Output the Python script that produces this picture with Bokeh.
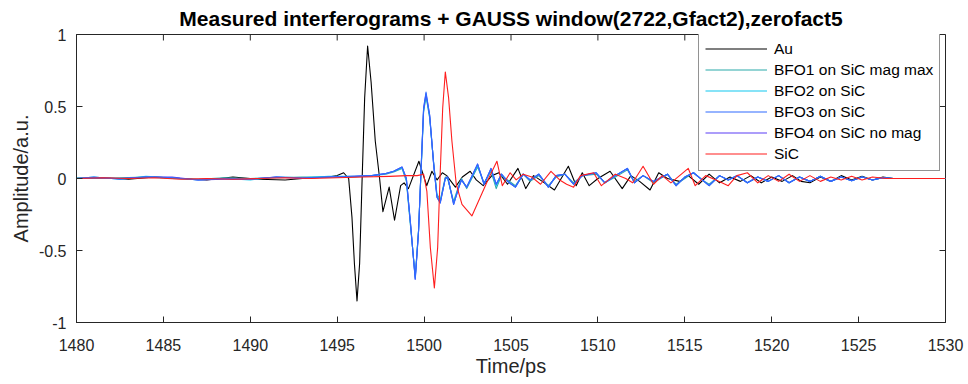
import math
from bokeh.plotting import figure
from bokeh.models import Range1d, FixedTicker, Legend, LegendItem
from bokeh.embed import file_html
from bokeh.resources import INLINE

# ---------------- data ----------------
title_text = "Measured interferograms + GAUSS window(2722,Gfact2),zerofact5"
x_label = "Time/ps"
y_label = "Amplitude/a.u."

x_ticks = [1480, 1485, 1490, 1495, 1500, 1505, 1510, 1515, 1520, 1525, 1530]
x_tick_labels = ["1480", "1485", "1490", "1495", "1500", "1505", "1510", "1515", "1520", "1525", "1530"]
y_ticks = [-1, -0.5, 0, 0.5, 1]
y_tick_labels = ["-1", "-0.5", "0", "0.5", "1"]

series_names = ["Au", "BFO1 on SiC mag max", "BFO2 on SiC", "BFO3 on SiC", "BFO4 on SiC no mag", "SiC"]

t_au = [1480.0, 1481.5, 1483.0, 1484.5, 1486.0, 1487.5, 1489.0, 1490.5, 1492.0, 1493.5,
        1494.5, 1495.0, 1495.37, 1495.66, 1495.85, 1495.99, 1496.14, 1496.29, 1496.43, 1496.58,
        1496.75, 1496.95, 1497.19, 1497.44, 1497.63, 1497.99, 1498.3, 1498.65, 1498.85, 1499.1,
        1499.7, 1500.15,
        1500.45, 1500.75, 1501.05, 1501.3, 1501.8, 1502.2, 1502.65, 1503.0, 1503.4, 1503.9,
        1504.3, 1504.8, 1505.4, 1505.85, 1506.3, 1506.8, 1507.5, 1508.3, 1508.75, 1509.1,
        1509.5, 1510.0, 1510.7, 1511.4, 1511.9, 1512.4, 1513.0, 1513.5, 1514.0, 1514.7,
        1515.2, 1515.8, 1516.4, 1517.0, 1517.6, 1518.2, 1518.8, 1519.4, 1520.0, 1520.6,
        1521.2, 1521.7, 1522.2, 1522.8, 1523.4, 1524.0, 1524.6, 1525.2, 1525.8, 1526.4,
        1527.0, 1530.0]
a_au = [0.0, 0.005, -0.005, 0.01, 0.0, -0.01, 0.01, -0.005, -0.01, 0.005,
        0.01, 0.02, 0.04, 0.0, -0.27, -0.59, -0.85, -0.59, -0.02, 0.56,
        0.92, 0.67, 0.26, 0.0, -0.23, -0.06, -0.29, -0.05, -0.03, -0.07,
        0.12, -0.05,
        0.05, -0.01, 0.04, 0.02, -0.06, 0.01, 0.05, -0.01, -0.05, 0.02,
        0.04, -0.04, 0.07, -0.07, 0.02, -0.02, -0.08, 0.085, -0.05, 0.04,
        -0.05, 0.0, 0.05, -0.07, 0.02, -0.02, -0.08, 0.04, 0.0, -0.02,
        0.02, -0.04, 0.03, -0.03, 0.01, -0.02, 0.02, -0.03, 0.01, -0.02,
        0.02, -0.02, -0.03, 0.01, -0.02, 0.02, -0.01, 0.015, -0.01, 0.01,
        0.0, 0.0]

t_bfo = [1480.0, 1481.0, 1482.5, 1484.0, 1485.5, 1487.0, 1488.5, 1490.0, 1491.5, 1493.0,
         1494.5, 1496.0, 1497.0, 1497.8, 1498.25, 1498.73, 1498.98, 1499.21, 1499.49, 1499.68,
         1499.82, 1499.97, 1500.11, 1500.32, 1500.55, 1500.74, 1500.93, 1501.22, 1501.36, 1501.70,
         1501.99, 1502.15, 1502.45,
         1503.08, 1503.45, 1503.85, 1504.15, 1504.45, 1504.8, 1505.25, 1505.7, 1506.1, 1506.6,
         1507.15, 1507.6, 1508.1, 1508.6, 1509.1, 1509.9, 1510.4, 1511.0, 1511.7, 1512.1,
         1512.6, 1513.2, 1514.0, 1514.5, 1515.0, 1515.5, 1516.0, 1516.4, 1517.0, 1517.5,
         1518.0, 1518.6, 1519.2, 1519.8, 1520.4, 1521.0, 1521.6, 1522.2, 1522.8, 1523.4,
         1524.0, 1524.6, 1525.2, 1525.8, 1526.4, 1527.0, 1528.5, 1530.0]
a_bfo1 = [0.005, 0.0, 0.005, 0.01, 0.0, -0.005, 0.005, 0.0, 0.005, 0.01,
          0.01, 0.01, 0.02, 0.03, 0.045, 0.07, -0.02, -0.32, -0.68, -0.36,
          0.03, 0.46, 0.57, 0.42, 0.11, -0.11, -0.15, 0.01, 0.0, -0.16,
          -0.05, 0.0, -0.07,
          0.08, -0.03, 0.05, -0.07, 0.02, -0.01, -0.05, 0.03, -0.02, 0.02,
          -0.05, 0.01, 0.03, -0.03, 0.02, 0.03, -0.03, 0.01, 0.06, -0.02,
          0.02, -0.03, 0.03, -0.04, 0.0, 0.04, -0.01, -0.04, 0.02, -0.01,
          0.02, -0.03, 0.01, -0.02, 0.02, -0.03, 0.01, -0.02, 0.015, -0.02,
          0.01, -0.015, 0.01, -0.01, 0.005, 0.0, 0.0, 0.0]
a_bfo2 = [0.0, 0.01, -0.005, 0.015, 0.005, -0.01, 0.0, -0.01, 0.01, 0.005,
          0.015, 0.015, 0.02, 0.035, 0.05, 0.075, -0.01, -0.31, -0.69, -0.36,
          0.04, 0.47, 0.58, 0.43, 0.10, -0.12, -0.16, 0.0, 0.0, -0.17,
          -0.06, -0.01, -0.06,
          0.09, -0.04, 0.06, -0.05, 0.03, -0.02, -0.06, 0.03, -0.01, 0.03,
          -0.06, 0.02, 0.03, -0.04, 0.02, 0.04, -0.03, 0.02, 0.07, -0.03,
          0.02, -0.02, 0.03, -0.05, 0.01, 0.04, -0.01, -0.05, 0.02, -0.01,
          0.02, -0.03, 0.01, -0.02, 0.02, -0.03, 0.01, -0.02, 0.015, -0.02,
          0.01, -0.015, 0.01, -0.01, 0.005, 0.0, 0.0, 0.0]
a_bfo3 = [0.0, 0.01, -0.005, 0.01, 0.005, -0.01, 0.0, -0.005, 0.01, 0.005,
          0.01, 0.015, 0.02, 0.035, 0.05, 0.08, 0.0, -0.30, -0.70, -0.37,
          0.05, 0.49, 0.60, 0.44, 0.10, -0.13, -0.17, 0.0, 0.01, -0.18,
          -0.065, -0.01, -0.06,
          0.10, -0.04, 0.07, -0.04, 0.03, -0.02, -0.06, 0.03, -0.01, 0.03,
          -0.06, 0.02, 0.03, -0.04, 0.02, 0.04, -0.03, 0.02, 0.07, -0.03,
          0.02, -0.02, 0.03, -0.05, 0.01, 0.04, -0.01, -0.05, 0.02, -0.01,
          0.02, -0.03, 0.01, -0.02, 0.02, -0.03, 0.01, -0.02, 0.015, -0.02,
          0.01, -0.015, 0.01, -0.01, 0.005, 0.0, 0.0, 0.0]
a_bfo4 = [0.0, 0.005, 0.0, 0.01, 0.01, -0.01, -0.005, -0.005, 0.01, 0.0,
          0.01, 0.015, 0.02, 0.035, 0.05, 0.08, 0.0, -0.30, -0.70, -0.37,
          0.05, 0.48, 0.59, 0.44, 0.10, -0.13, -0.17, 0.0, 0.01, -0.18,
          -0.065, -0.01, -0.06,
          0.10, -0.04, 0.07, -0.04, 0.03, -0.02, -0.06, 0.03, -0.01, 0.03,
          -0.06, 0.02, 0.03, -0.04, 0.02, 0.04, -0.03, 0.02, 0.07, -0.03,
          0.02, -0.02, 0.03, -0.05, 0.01, 0.04, -0.01, -0.05, 0.02, -0.01,
          0.02, -0.03, 0.01, -0.02, 0.02, -0.03, 0.01, -0.02, 0.015, -0.02,
          0.01, -0.015, 0.01, -0.01, 0.005, 0.0, 0.0, 0.0]

t_sic = [1480.0, 1481.5, 1483.0, 1484.5, 1486.0, 1487.5, 1489.0, 1490.5, 1492.0, 1493.5,
         1495.0, 1496.5, 1498.0, 1499.0, 1499.6, 1499.97, 1500.16, 1500.36, 1500.59, 1500.78,
         1500.93, 1501.07, 1501.22, 1501.41, 1501.6, 1501.85, 1502.18, 1502.75, 1503.23, 1503.71,
         1504.19, 1504.5,
         1504.95, 1505.3, 1505.7, 1506.2, 1506.7, 1507.3, 1507.8, 1508.2, 1508.6, 1509.0,
         1509.75, 1510.2, 1511.0, 1511.6, 1512.0, 1512.6, 1513.2, 1513.7, 1514.2, 1515.2,
         1515.6, 1516.2, 1516.8, 1517.5, 1518.0, 1518.6, 1519.2, 1519.8, 1520.4, 1521.0,
         1521.6, 1522.2, 1522.8, 1523.4, 1524.0, 1524.6, 1525.2, 1525.8, 1526.6, 1530.0]
a_sic = [0.0, 0.005, 0.0, 0.005, -0.005, 0.0, -0.005, 0.0, 0.005, 0.0,
         0.005, 0.01, 0.015, 0.02, 0.02, 0.03, -0.09, -0.48, -0.76, -0.48,
         0.05, 0.49, 0.74, 0.56, 0.26, -0.04, -0.18, -0.26, -0.13, 0.0,
         0.12, -0.05,
         0.04, -0.01, 0.03, 0.01, -0.04, 0.05, -0.01, -0.04, -0.06, 0.02,
         0.04, -0.05, 0.03, 0.0, -0.03, 0.085, -0.04, 0.02, -0.03, 0.07,
         -0.05, 0.02, -0.01, -0.05, 0.02, 0.04, -0.03, 0.02, -0.02, 0.03,
         -0.02, 0.02, -0.02, 0.01, -0.01, 0.015, -0.01, 0.01, 0.0, 0.0]

colors = ["#000000", "#2aaaaa", "#10c8f0", "#2f6bff", "#5a3cf5", "#ff1e1e"]

# ---------------- figure ----------------
GREY = "#262626"
FONT = "Liberation Sans"

p = figure(width=968, height=384, output_backend="svg", toolbar_location=None,
           x_range=Range1d(1480, 1530), y_range=Range1d(-1, 1),
           min_border_left=76, min_border_right=23, min_border_top=33, min_border_bottom=62)
p.background_fill_color = "white"
p.border_fill_color = "white"
p.grid.visible = False
p.outline_line_color = GREY
p.outline_line_width = 1

p.title.text = title_text
p.title.text_font = FONT
p.title.text_font_size = "21px"
p.title.text_font_style = "bold"
p.title.text_color = "#000000"
p.title.align = "center"
p.title.standoff = 9


def style_axis(ax, ticks, labels):
    ax.ticker = FixedTicker(ticks=ticks)
    ax.major_label_overrides = {t: l for t, l in zip(ticks, labels)}
    ax.major_tick_in = 6
    ax.major_tick_out = 0
    ax.minor_tick_line_color = None
    ax.axis_line_color = GREY
    ax.major_tick_line_color = GREY
    ax.major_label_text_color = GREY
    ax.major_label_text_font = FONT
    ax.major_label_text_font_size = "16px"
    ax.axis_label_text_font = FONT
    ax.axis_label_text_font_size = "20px"
    ax.axis_label_text_font_style = "normal"
    ax.axis_label_text_color = GREY


style_axis(p.xaxis[0], x_ticks, x_tick_labels)
style_axis(p.yaxis[0], y_ticks, y_tick_labels)
p.xaxis[0].axis_label = x_label
p.yaxis[0].axis_label = y_label
p.xaxis[0].major_label_standoff = 16
p.xaxis[0].axis_label_standoff = 1
p.yaxis[0].major_label_standoff = 10
p.yaxis[0].axis_label_standoff = 4

# inward ticks on the top and right sides of the box
p.ray(x=x_ticks, y=[p.y_range.end] * len(x_ticks), length=6, length_units="screen",
      angle=-math.pi / 2, line_color=GREY, line_width=1)
p.ray(x=[p.x_range.end] * len(y_ticks), y=y_ticks, length=6, length_units="screen",
      angle=math.pi, line_color=GREY, line_width=1)

data = [(t_au, a_au), (t_bfo, a_bfo1), (t_bfo, a_bfo2), (t_bfo, a_bfo3), (t_bfo, a_bfo4), (t_sic, a_sic)]
draw_order = [0, 1, 2, 4, 3, 5]
renderers = {}
for i in draw_order:
    t, a = data[i]
    renderers[i] = p.line(t, a, line_color=colors[i], line_width=1.1, line_join="round")

legend = Legend(items=[LegendItem(label=series_names[i], renderers=[renderers[i]]) for i in range(6)],
                location=(622, 151))
legend.margin = 0
legend.padding = 6
legend.spacing = 0
legend.glyph_height = 21
legend.glyph_width = 62
legend.label_standoff = 7
legend.label_text_font = FONT
legend.label_text_font_size = "15.5px"
legend.label_text_color = "#000000"
legend.border_line_color = GREY
legend.border_line_width = 1
legend.background_fill_color = "white"
legend.background_fill_alpha = 1.0
p.add_layout(legend)

open("out.html", "w").write(file_html(p, INLINE))
